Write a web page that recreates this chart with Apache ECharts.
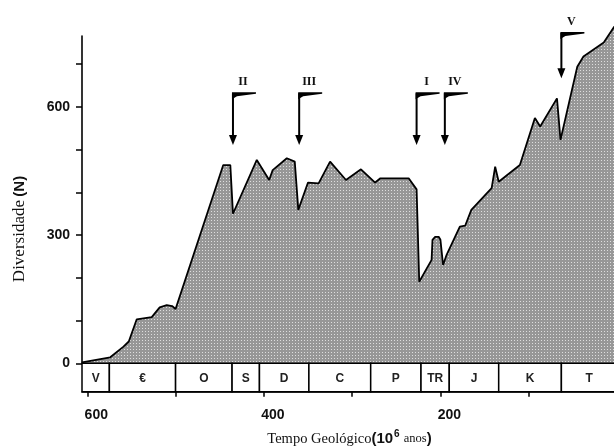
<!DOCTYPE html>
<html>
<head>
<meta charset="utf-8">
<script src="https://cdn.jsdelivr.net/npm/echarts@6/dist/echarts.min.js"></script>
<style>
html,body{margin:0;padding:0;background:#fff;}
#chart{width:614px;height:448px;}
</style>
</head>
<body>
<div id="chart"></div>
<script>
// ---- data (ages in 10^6 years, diversity N) ----
const curveAge = [606, 574, 559, 553, 544, 527, 518, 510, 504, 500, 446, 438, 435, 408, 394, 390, 374, 365, 361, 350, 338, 325, 307, 290, 274, 268, 236, 227, 224, 210, 209, 206, 202, 200, 197, 193, 178, 172, 165, 142, 138, 134, 110, 93, 87, 68, 64, 45, 38, 15, 3];
const curveN   = [2, 14, 39, 51, 103, 108, 131, 136, 134, 127, 464, 464, 350, 476, 429, 452, 480, 472, 359, 423, 421, 472, 429, 454, 423, 433, 433, 407, 191, 242, 289, 296, 296, 289, 230, 254, 320, 322, 359, 410, 460, 425, 464, 574, 554, 620, 523, 694, 718, 751, 788];

const periodNames  = ['V', '€', 'O', 'S', 'D', 'C', 'P', 'TR', 'J', 'K', 'T'];
const periodBounds = [606, 575, 500, 436, 405, 349, 279, 222, 190, 134, 63, 0];

const eventNames = ['II', 'III', 'I', 'IV', 'V'];
const eventAge   = [435, 360, 227, 195, 63];
const eventTop   = [632, 632, 632, 632, 773];
const eventTip   = [511, 511, 511, 511, 667];

const yTicks  = [0, 100, 200, 300, 400, 500, 600, 700];
const yLabels = [0, 300, 600];
const xTicks  = [0, 100, 200, 300, 400, 500, 600];
const xLabels = [0, 200, 400, 600];

const xMin = 0, xMax = 606, yMax = 766;

// ---- halftone pattern ----
const pc = document.createElement('canvas');
pc.width = 3; pc.height = 3;
const pctx = pc.getContext('2d');
pctx.fillStyle = '#979797';
pctx.fillRect(0, 0, 3, 3);
pctx.fillStyle = '#dedede';
pctx.fillRect(1, 1, 1, 1);

const chart = echarts.init(document.getElementById('chart'), null, {renderer: 'canvas'});

const SANS = '"Liberation Sans", Arial, sans-serif';
const SERIF = '"Liberation Serif", "Times New Roman", serif';

const option = {
  animation: false,
  backgroundColor: '#fff',
  grid: [
    {left: 82, right: -3, top: 36, bottom: 84.7, outerBoundsMode: 'none', containLabel: false},
    {left: 82, right: -3, top: 363.3, height: 28.4, outerBoundsMode: 'none', containLabel: false}
  ],
  xAxis: [
    {gridIndex: 0, type: 'value', min: xMin, max: xMax, inverse: true, show: false},
    {
      gridIndex: 1, type: 'value', min: xMin, max: xMax, inverse: true,
      splitLine: {show: false},
      axisLine: {show: true, onZero: false, lineStyle: {color: '#000', width: 1.5}},
      axisTick: {show: true, length: 5, customValues: xTicks, lineStyle: {color: '#000', width: 1.5}},
      axisLabel: {
        customValues: xLabels, margin: 16, color: '#111',
        fontFamily: SANS, fontWeight: 'bold', fontSize: 14,
        padding: [0, 0, 0, 18], hideOverlap: false
      },
      name: '{a|Tempo Geológico}{b|(10}{c|6}{d| anos}{b|)}',
      nameLocation: 'middle',
      nameGap: 38,
      nameTextStyle: {
        rich: {
          a: {fontFamily: SERIF, fontSize: 14.5, color: '#111'},
          b: {fontFamily: SANS, fontWeight: 'bold', fontSize: 15, color: '#111'},
          c: {fontFamily: SANS, fontWeight: 'bold', fontSize: 10, color: '#111', padding: [0, 1, 9, 1]},
          d: {fontFamily: SERIF, fontSize: 12.5, color: '#111'}
        }
      }
    }
  ],
  yAxis: [
    {
      gridIndex: 0, type: 'value', min: 0, max: yMax, position: 'left',
      splitLine: {show: false},
      axisLine: {show: true, onZero: false, lineStyle: {color: '#000', width: 1.6}},
      axisTick: {show: true, length: 6, customValues: yTicks, lineStyle: {color: '#000', width: 1.5}},
      axisLabel: {
        customValues: yLabels, margin: 12, color: '#111',
        fontFamily: SANS, fontWeight: 'bold', fontSize: 14
      }
    },
    {gridIndex: 1, type: 'value', min: 0, max: 1, show: false}
  ],
  graphic: [
    {
      type: 'text', x: 20, y: 229, rotation: Math.PI / 2,
      style: {
        text: '{a|Diversidade} {b|(N)}',
        align: 'center', verticalAlign: 'middle',
        rich: {
          a: {fontFamily: SERIF, fontSize: 17, fill: '#111'},
          b: {fontFamily: SANS, fontWeight: 'bold', fontSize: 15, fill: '#111'}
        }
      }
    }
  ],
  series: [
    {
      type: 'line',
      xAxisIndex: 0, yAxisIndex: 0,
      data: curveAge.map((a, i) => [a, curveN[i]]),
      symbol: 'none',
      clip: false,
      lineStyle: {color: '#000', width: 1.8},
      areaStyle: {color: {image: pc, repeat: 'repeat'}, opacity: 1},
      z: 2
    },
    {
      type: 'custom',
      xAxisIndex: 1, yAxisIndex: 1,
      data: periodNames.map((p, i) => [periodBounds[i], periodBounds[i + 1]]),
      clip: false,
      renderItem: function (params, api) {
        const p0 = api.coord([api.value(0), 1]);
        const p1 = api.coord([api.value(1), 0]);
        const x0 = Math.min(p0[0], p1[0]);
        const w = Math.abs(p1[0] - p0[0]);
        return {
          type: 'group',
          children: [
            {type: 'rect', shape: {x: x0, y: p0[1], width: w, height: p1[1] - p0[1]},
             style: {fill: '#fff', stroke: '#000', lineWidth: 1.5}},
            {type: 'text', x: x0 + w / 2, y: (p0[1] + p1[1]) / 2 + 1,
             style: {text: periodNames[params.dataIndex], align: 'center', verticalAlign: 'middle',
                     font: 'bold 12px ' + SANS, fill: '#222'}}
          ]
        };
      },
      z: 3
    },
    {
      type: 'custom',
      xAxisIndex: 0, yAxisIndex: 0,
      data: eventNames.map((n, i) => [eventAge[i], eventTop[i], eventTip[i]]),
      clip: false,
      renderItem: function (params, api) {
        const pt = api.coord([api.value(0), api.value(1)]);
        const pb = api.coord([api.value(0), api.value(2)]);
        const sx = pt[0];
        return {
          type: 'group',
          children: [
            {type: 'line', shape: {x1: sx, y1: pt[1], x2: sx, y2: pb[1] - 8},
             style: {stroke: '#000', lineWidth: 2}},
            {type: 'polygon', shape: {points: [[sx - 4, pb[1] - 10], [sx + 4, pb[1] - 10], [sx, pb[1]]]},
             style: {fill: '#000'}},
            {type: 'polygon', shape: {points: [[sx - 1, pt[1] - 1], [sx + 23, pt[1] - 1], [sx + 23, pt[1] + 0.6], [sx + 4, pt[1] + 3], [sx - 1, pt[1] + 6]]},
             style: {fill: '#000'}},
            {type: 'text', x: sx + 10, y: pt[1] - 11,
             style: {text: eventNames[params.dataIndex], align: 'center', verticalAlign: 'middle',
                     font: 'bold 12px ' + SERIF, fill: '#111'}}
          ]
        };
      },
      z: 4
    }
  ]
};
chart.setOption(option);
</script>
</body>
</html>
